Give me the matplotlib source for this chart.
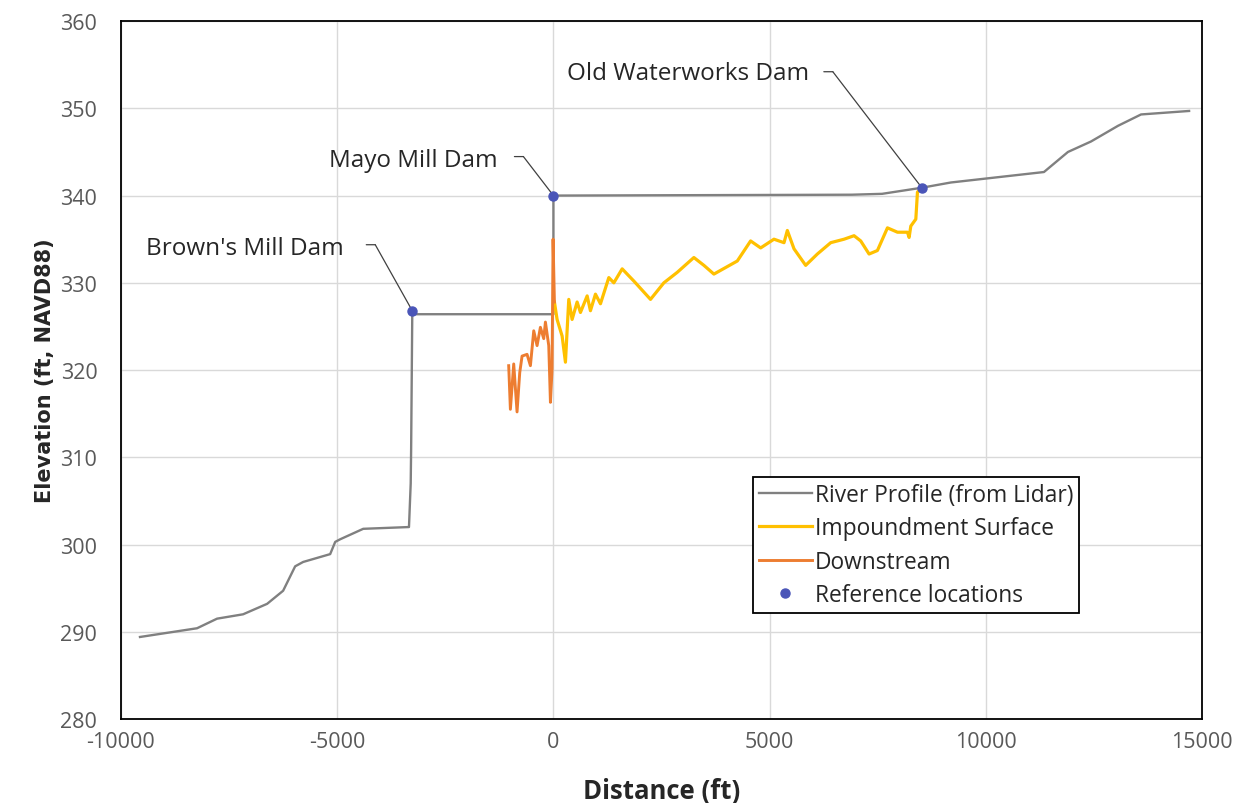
import matplotlib
matplotlib.use("Agg")
import matplotlib.pyplot as plt
from matplotlib.transforms import offset_copy

# River profile from lidar (distance ft, elevation ft NAVD88)
river_x = [-9560, -8241, -7778, -7176, -6620, -6250, -5972, -5787, -5162, -5046,
           -4931, -4398, -3356, -3340, -3300, -3290, -3264, 0, 0, 6900, 7600,
           8519, 9190, 11343, 11898, 12431, 13056, 13588, 14699]
river_y = [289.4, 290.4, 291.5, 292.0, 293.2, 294.7, 297.5, 298.0, 298.9, 300.3,
           300.6, 301.8, 302.0, 302.0, 307.0, 311.0, 326.4, 326.4, 340.0, 340.1, 340.2,
           340.9, 341.5, 342.7, 345.0, 346.2, 348.0, 349.3, 349.7]

# Water surface in the Mayo Mill impoundment
imp_x = [23, 85, 201, 278, 355, 432, 548, 625, 780, 856, 972, 1088, 1281, 1397,
         1590, 1705, 1860, 2245, 2554, 2863, 3248, 3480, 3711, 4252, 4560, 4792,
         5100, 5332, 5409, 5563, 5833, 6103, 6412, 6721, 6952, 7106, 7299, 7492,
         7724, 7956, 8187, 8225, 8264, 8380, 8418, 8519]
imp_y = [327.8, 325.8, 323.9, 320.9, 328.1, 325.8, 327.8, 326.6, 328.5, 326.8,
         328.7, 327.6, 330.6, 330.0, 331.6, 331.0, 330.2, 328.1, 330.0, 331.2,
         332.9, 332.0, 331.0, 332.5, 334.8, 334.0, 335.0, 334.6, 336.0, 333.9,
         332.0, 333.3, 334.6, 335.0, 335.4, 334.8, 333.3, 333.7, 336.3, 335.8,
         335.8, 335.2, 336.5, 337.3, 340.4, 340.9]

# Water surface downstream of Mayo Mill Dam
down_x = [-1034, -995, -918, -841, -779, -725, -610, -532, -455, -378, -301,
          -224, -185, -108, -69, -31, -8, 23]
down_y = [320.5, 315.5, 320.7, 315.2, 319.7, 321.6, 321.8, 320.5, 324.5, 322.8,
          324.9, 323.6, 325.5, 322.8, 316.3, 320.1, 335.0, 327.8]

# Dam reference locations
ref_names = ["Brown's Mill Dam", "Mayo Mill Dam", "Old Waterworks Dam"]
ref_x = [-3264, 0, 8519]
ref_y = [326.8, 340.0, 340.9]

x_ticks = [-10000, -5000, 0, 5000, 10000, 15000]
y_ticks = [280, 290, 300, 310, 320, 330, 340, 350, 360]

FONT = ["Open Sans", "DejaVu Sans"]
plt.rcParams["font.family"] = FONT
plt.rcParams["axes.unicode_minus"] = False

fig = plt.figure(figsize=(12.47, 8.04), dpi=100)
ax = fig.add_axes([0.097, 0.1045, 0.867, 0.868])

ax.plot(river_x, river_y, color="#808080", lw=1.7, label="River Profile (from Lidar)", zorder=3)
ax.plot(imp_x, imp_y, color="#FFC000", lw=2.3, label="Impoundment Surface", zorder=4)
ax.plot(down_x, down_y, color="#ED7D31", lw=2.1, label="Downstream", zorder=4)
ax.plot(ref_x, ref_y, ls="none", marker="o", ms=6.5, color="#4A55B8",
        label="Reference locations", zorder=5)

ax.set_xlim(x_ticks[0], x_ticks[-1])
ax.set_ylim(y_ticks[0], y_ticks[-1])
ax.set_xticks(x_ticks)
ax.set_yticks(y_ticks)
ax.tick_params(length=0, labelsize=15.5, labelcolor="#595959")
ax.tick_params(axis="y", pad=17)
ax.tick_params(axis="x", pad=9)
ax.grid(True, color="#d9d9d9", lw=1.0)
ax.set_axisbelow(True)
for s in ax.spines.values():
    s.set_color("black")
    s.set_linewidth(1.3)

ax.set_xlabel("Distance (ft)", fontsize=18.5, fontweight="bold", color="#262626", labelpad=18)
ax.set_ylabel("Elevation (ft, NAVD88)", fontsize=15, fontweight="bold", color="#262626",
              family=["DejaVu Sans"], labelpad=4)

# Leader lines: (corner offset, label offset) in pixels relative to each marker
leaders = [((-37, 66), (-69, 63)), ((-30, 39), (-56, 36)), ((-89, 116), (-113, 115))]
for name, px, py, (corner, txt) in zip(ref_names, ref_x, ref_y, leaders):
    # diagonal from the marker to the elbow
    ax.annotate("", xy=(px, py), xytext=corner, textcoords="offset pixels",
                arrowprops=dict(arrowstyle="-", color="#404040", lw=0.9,
                                shrinkA=0, shrinkB=0))
    # short horizontal stub from the elbow toward the label
    tr_a = offset_copy(ax.transData, fig=fig, x=corner[0], y=corner[1], units="dots")
    tr_b = offset_copy(ax.transData, fig=fig, x=corner[0] - 9, y=corner[1], units="dots")
    ax.annotate("", xy=(px, py), xycoords=tr_a, xytext=(px, py), textcoords=tr_b,
                arrowprops=dict(arrowstyle="-", color="#404040", lw=0.9,
                                shrinkA=0, shrinkB=0))
    ax.annotate(name, xy=(px, py), xytext=txt, textcoords="offset pixels",
                ha="right", va="center", fontsize=17.5, color="#262626")

leg = ax.legend(loc="lower left", bbox_to_anchor=(0.585, 0.152), fontsize=16.4,
                frameon=True, fancybox=False, edgecolor="black", framealpha=1,
                handlelength=2.3, handletextpad=0.15, labelspacing=0.42,
                borderpad=0.25, numpoints=1, borderaxespad=0)
leg.get_frame().set_linewidth(1.3)
for t in leg.get_texts():
    t.set_color("#262626")

fig.savefig("out.png", dpi=100)
